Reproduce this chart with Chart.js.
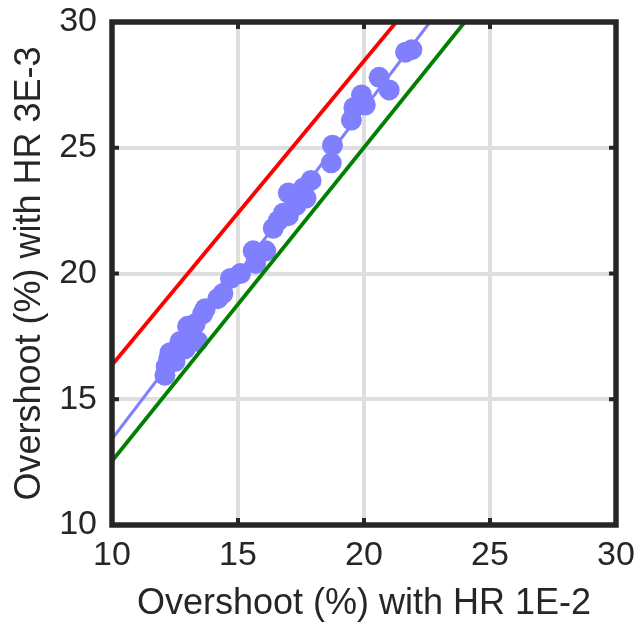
<!DOCTYPE html>
<html>
<head>
<meta charset="utf-8">
<script src="https://cdn.jsdelivr.net/npm/chart.js@4.4.1/dist/chart.umd.min.js"></script>
<style>
  html, body { margin: 0; padding: 0; background: #ffffff; }
  #wrap { width: 638px; height: 628px; }
</style>
</head>
<body>
<div id="wrap"><canvas id="c" width="638" height="628"></canvas></div>
<script>
// Scatter data: overshoot (%) with HR 1E-2 (x) vs HR 3E-3 (y)
const overshootHR1E2 = [12.1, 12.15, 12.25, 12.3, 12.5, 12.7, 12.9, 13.0, 13.2, 13.3,
  13.4, 13.6, 13.7, 14.2, 14.4, 14.7, 15.1, 15.6, 15.7, 15.85,
  16.1, 16.4, 16.6, 16.8, 17.0, 17.0, 17.3, 17.6, 17.7, 17.9,
  18.7, 18.75, 19.5, 19.6, 19.9, 20.05, 20.6, 21.0, 21.65, 21.9];
const overshootHR3E3 = [15.95, 16.3, 16.6, 16.85, 16.5, 17.3, 17.0, 17.9, 17.4, 18.0,
  17.3, 18.4, 18.6, 19.0, 19.2, 19.8, 20.0, 20.9, 20.4, 20.8,
  20.9, 21.8, 22.1, 22.4, 22.3, 23.2, 22.7, 23.4, 23.0, 23.7,
  24.4, 25.1, 26.1, 26.6, 27.1, 26.7, 27.8, 27.3, 28.8, 28.9];

// Reference lines (end points)
const fitLineX = [10, 22.62];
const fitLineY = [13.42, 30];
const upperLineX = [10, 21.28];
const upperLineY = [16.36, 30];
const lowerLineX = [10, 24.0];
const lowerLineY = [12.54, 30];

// Axis settings
const axisMin = 10;
const axisMax = 30;
const tickStep = 5;
const xTitle = 'Overshoot (%) with HR 1E-2';
const yTitle = 'Overshoot (%) with HR 3E-3';

const toPts = (xs, ys) => xs.map((x, i) => ({ x: x, y: ys[i] }));

const axisColor = '#262626';
const fontFamily = '"Liberation Sans", Arial, Helvetica, sans-serif';

const frame = {
  id: 'frame',
  afterDatasetsDraw(chart) {
    const ctx = chart.ctx;
    const a = chart.chartArea;
    const xs = chart.scales.x, ys = chart.scales.y;
    ctx.save();
    ctx.strokeStyle = axisColor;
    ctx.fillStyle = axisColor;
    // inward tick marks
    const tl = 7, tw = 4;
    xs.ticks.forEach(t => {
      if (t.value <= axisMin || t.value >= axisMax) return;
      const px = xs.getPixelForValue(t.value);
      ctx.fillRect(px - tw / 2, a.bottom - tl, tw, tl);
      ctx.fillRect(px - tw / 2, a.top, tw, tl);
    });
    ys.ticks.forEach(t => {
      if (t.value <= axisMin || t.value >= axisMax) return;
      const py = ys.getPixelForValue(t.value);
      ctx.fillRect(a.left, py - tw / 2, tl, tw);
      ctx.fillRect(a.right - tl, py - tw / 2, tl, tw);
    });
    ctx.lineWidth = 5.5;
    ctx.strokeRect(a.left, a.top, a.right - a.left, a.bottom - a.top);
    ctx.restore();
  }
};

new Chart(document.getElementById('c'), {
  type: 'scatter',
  data: {
    datasets: [
      {
        type: 'line',
        data: toPts(fitLineX, fitLineY),
        borderColor: '#8080FF',
        borderWidth: 3,
        pointRadius: 0,
        fill: false,
        order: 4
      },
      {
        data: toPts(overshootHR1E2, overshootHR3E3),
        backgroundColor: '#8080FF',
        borderColor: '#8080FF',
        borderWidth: 0,
        pointRadius: 10.5,
        pointHoverRadius: 10.5,
        order: 3
      },
      {
        type: 'line',
        data: toPts(upperLineX, upperLineY),
        borderColor: '#FF0000',
        borderWidth: 3.8,
        pointRadius: 0,
        fill: false,
        order: 2
      },
      {
        type: 'line',
        data: toPts(lowerLineX, lowerLineY),
        borderColor: '#008000',
        borderWidth: 3.8,
        pointRadius: 0,
        fill: false,
        order: 1
      }
    ]
  },
  options: {
    responsive: false,
    animation: false,
    events: [],
    layout: { padding: { top: 22, right: 22, left: 0, bottom: 0 } },
    plugins: { legend: { display: false }, tooltip: { enabled: false } },
    scales: {
      x: {
        type: 'linear',
        min: axisMin, max: axisMax,
        afterFit(s) { s.height = 103; s.paddingLeft = 0; s.paddingRight = 0; },
        ticks: { stepSize: tickStep, color: axisColor, padding: 10, maxRotation: 0,
                 font: { family: fontFamily, size: 34 } },
        grid: { color: '#dedede', lineWidth: 4, drawTicks: false },
        border: { display: false },
        title: { display: true, text: xTitle, color: axisColor, padding: { top: 0, bottom: 2 },
                 font: { family: fontFamily, size: 36 } }
      },
      y: {
        type: 'linear',
        min: axisMin, max: axisMax,
        afterFit(s) { s.width = 112; s.paddingTop = 0; s.paddingBottom = 0; },
        ticks: { stepSize: tickStep, color: axisColor, padding: 15,
                 font: { family: fontFamily, size: 34 } },
        grid: { color: '#dedede', lineWidth: 4, drawTicks: false },
        border: { display: false },
        title: { display: true, text: yTitle, color: axisColor, padding: { top: 8, bottom: 0 },
                 font: { family: fontFamily, size: 36 } }
      }
    }
  },
  plugins: [frame]
});
</script>
</body>
</html>
